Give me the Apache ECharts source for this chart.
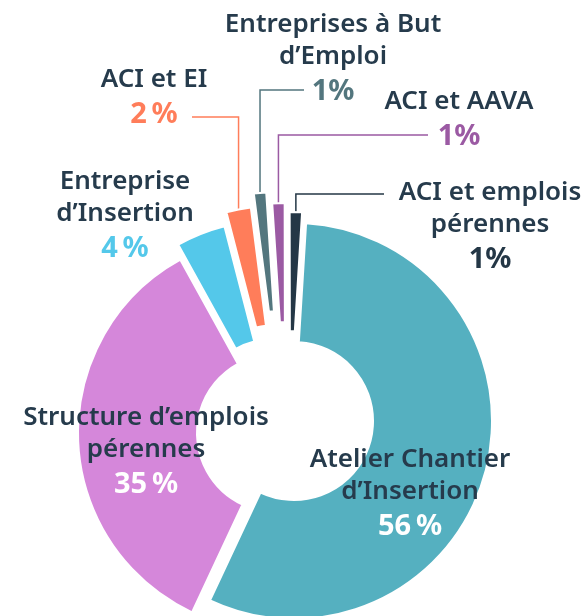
<!DOCTYPE html>
<html>
<head>
<meta charset="utf-8">
<script src="https://cdn.jsdelivr.net/npm/echarts@6/dist/echarts.min.js"></script>
<style>
  html, body { margin: 0; padding: 0; background: #fff; }
  #chart { width: 583px; height: 616px; }
</style>
</head>
<body>
<div id="chart"></div>
<script>
// slices, clockwise from 12 o'clock
const categories = [
  'Atelier Chantier\nd’Insertion',
  'Structure d’emplois\npérennes',
  'Entreprise\nd’Insertion',
  'ACI et EI',
  'Entreprises à But\nd’Emploi',
  'ACI et AAVA',
  'ACI et emplois\npérennes'
];
const shares = [56, 35, 4, 2, 1, 1, 1];
const shareLabels = ['56\u202F%', '35\u202F%', '4\u202F%', '2\u202F%', '1%', '1%', '1%'];

const colors = ['#55b0c0', '#d587da', '#54c8ea', '#ff7d5a', '#53767e', '#9b5aa3', '#243746'];
const pctColors = ['#ffffff', '#ffffff', '#54c8ea', '#ff7d5a', '#53767e', '#9b5aa3', '#243746'];
// how each slice is pulled away from the common centre [dx, dy]
const shifts = [[9, -3], [-9, 9], [-11, -6], [-9, -20], [-6, -34], [0, -23], [5, -14]];
// label block centres
const labelPos = [[410, 495], [146, 453], [125, 217], [154, 99], [333, 60], [459, 121], [490, 228]];
// leader lines: [elbow y, end x] (null = no line)
const leaders = [null, null, null, [117, 192], [90, 304], [135, 428], [194, 384]];

const textColor = '#263b4c';
const baseCenter = [285, 424];
const innerR = 79, outerR = 198;
const startAngle = 86.5;

const total = shares.reduce((a, b) => a + b, 0);
let acc = 0;
const midAngles = shares.map(v => {
  const m = (startAngle - (acc + v / 2) / total * 360) * Math.PI / 180;
  acc += v;
  return m;
});

const chart = echarts.init(document.getElementById('chart'));

const series = categories.map((cat, i) => {
  const m = midAngles[i];
  const c = [baseCenter[0] + shifts[i][0], baseCenter[1] + shifts[i][1]];
  return {
    type: 'pie',
    center: c,
    radius: [innerR, outerR],
    startAngle,
    clockwise: true,
    silent: true,
    avoidLabelOverlap: false,
    emphasis: { disabled: true },
    labelLayout: (params) => {
      if (params.dataIndex !== i) return;
      const out = {
        x: labelPos[i][0],
        y: labelPos[i][1],
        align: 'center',
        verticalAlign: 'middle'
      };
      const ld = leaders[i];
      if (ld) {
        const sx = c[0] + outerR * Math.cos(m);
        const sy = c[1] - outerR * Math.sin(m);
        out.labelLinePoints = [[sx, sy + 2], [sx, ld[0]], [ld[1], ld[0]]];
      }
      return out;
    },
    data: categories.map((name, j) => {
      if (j !== i) {
        return {
          name, value: shares[j],
          itemStyle: { color: 'rgba(0,0,0,0)', borderWidth: 0 },
          label: { show: false },
          labelLine: { show: false }
        };
      }
      return {
        name, value: shares[j],
        itemStyle: { color: colors[j], borderColor: '#fff', borderWidth: 2 },
        label: {
          show: true,
          position: 'outside',
          formatter: '{n|' + name + '}\n{p|' + shareLabels[j] + '}',
          rich: {
            n: { fontFamily: 'Noto Sans', fontWeight: 600, fontSize: 26, color: textColor, lineHeight: 32, align: 'center' },
            p: { fontFamily: 'Noto Sans', fontWeight: 700, fontSize: 29, color: pctColors[j], lineHeight: 38, align: 'center' }
          }
        },
        labelLine: {
          show: !!leaders[j],
          lineStyle: { color: colors[j], width: 1.5 }
        }
      };
    })
  };
});

chart.setOption({
  animation: false,
  series
});
</script>
</body>
</html>
